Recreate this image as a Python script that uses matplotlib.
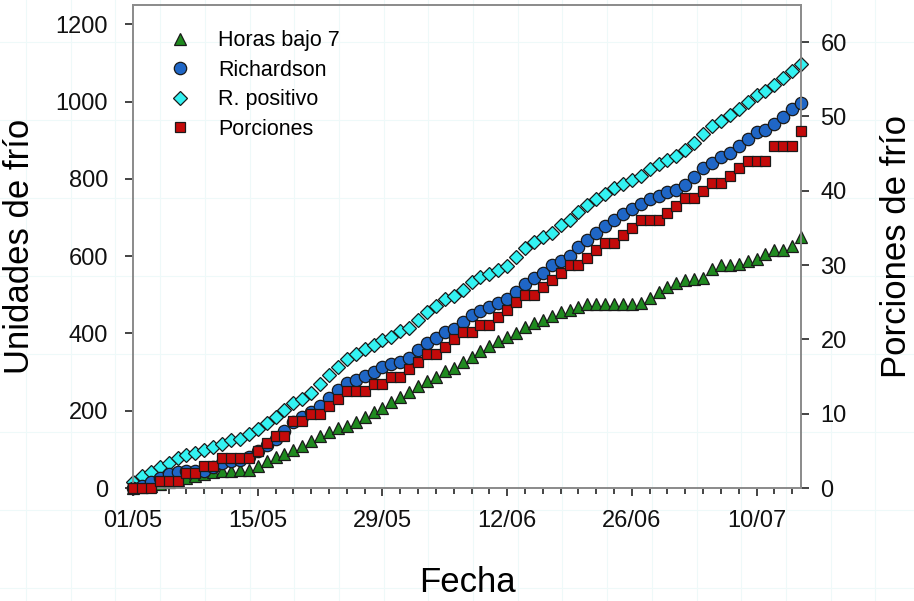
import numpy as np
import pandas as pd
import matplotlib
matplotlib.use('Agg')
import matplotlib.pyplot as plt
import matplotlib.dates as mdates
from matplotlib.lines import Line2D

plt.rcParams['font.family'] = ['Liberation Sans', 'DejaVu Sans']

# acumulados diarios desde el 1 de mayo
fechas = pd.date_range('2010-05-01', periods=76, freq='D')

horas_bajo7 = [0, 3, 6, 10, 15, 20, 26, 32, 37, 41,
               44, 45, 46, 47, 57, 70, 80, 87, 98, 108,
               122, 134, 145, 155, 160, 171, 184, 196, 206, 222,
               235, 248, 264, 278, 288, 304, 310, 326, 339, 355,
               368, 381, 390, 401, 416, 428, 436, 446, 455, 460,
               468, 477, 477, 477, 477, 477, 477, 478, 493, 507,
               519, 530, 538, 540, 544, 568, 576, 578, 581, 588,
               593, 606, 616, 616, 627, 650]

richardson = [0, 5, 15, 25, 35, 42, 45, 45, 45, 55,
              65, 70, 72, 80, 95, 111, 127, 148, 170, 183,
              196, 212, 234, 253, 273, 279, 289, 300, 313, 322,
              327, 337, 356, 375, 388, 405, 412, 429, 448, 458,
              468, 479, 488, 507, 528, 543, 557, 578, 588, 601,
              623, 642, 661, 677, 693, 709, 722, 735, 748, 756,
              765, 772, 785, 805, 828, 842, 857, 868, 885, 902,
              922, 926, 943, 960, 982, 997]

r_positivo = [15, 30, 42, 55, 65, 77, 85, 90, 98, 105,
              114, 124, 128, 139, 154, 169, 184, 201, 220, 231,
              246, 268, 292, 313, 335, 346, 359, 369, 384, 392,
              406, 415, 436, 455, 472, 490, 498, 513, 532, 545,
              554, 564, 575, 597, 621, 636, 650, 661, 681, 693,
              713, 733, 748, 762, 776, 786, 797, 808, 825, 838,
              850, 860, 874, 894, 915, 937, 951, 965, 981, 1000,
              1018, 1027, 1044, 1061, 1080, 1098]

porciones = [0, 0, 0, 1, 1, 1, 2, 2, 3, 3,
             4, 4, 4, 4, 5, 6, 7, 7, 9, 9,
             10, 10, 11, 12, 13, 13, 13, 14, 14, 15,
             15, 16, 17, 18, 18, 19, 20, 21, 21, 22,
             22, 23, 24, 25, 26, 26, 27, 28, 29, 30,
             30, 31, 32, 33, 33, 34, 35, 36, 36, 36,
             37, 38, 39, 39, 40, 41, 41, 42, 43, 44,
             44, 44, 46, 46, 46, 48]

c_verde = '#1f8a1f'
c_azul = '#1f66c6'
c_cian = '#33f2f2'
c_rojo = '#c40a0a'
borde = '#1a1a1a'
gris = '#8c8c8c'

fig = plt.figure(figsize=(9.14, 6.01), dpi=100)

# cuadricula tenue de fondo
for xf in np.arange(26, 914, 44.7) / 914:
    fig.add_artist(Line2D([xf, xf], [0, 1], color='#eef9f9', lw=0.8, zorder=-10))
for yf in np.arange(13, 601, 78) / 601:
    fig.add_artist(Line2D([0, 1], [yf, yf], color='#eef9f9', lw=0.8, zorder=-10))

ax = fig.add_axes([0.1455, 0.188, 0.731, 0.8037])
ax.patch.set_alpha(0)

ax.plot(fechas, horas_bajo7, '^', ms=9.3, mfc=c_verde, mec=borde, mew=0.9,
        clip_on=False, label='Horas bajo 7', zorder=3)
ax.plot(fechas, r_positivo, 'D', ms=7.4, mfc=c_cian, mec=borde, mew=0.9,
        clip_on=False, label='R. positivo', zorder=4)
ax.plot(fechas, richardson, 'o', ms=8.9, mfc=c_azul, mec=borde, mew=0.9,
        clip_on=False, label='Richardson', zorder=5)

ax.set_ylim(0, 1250)
ax.set_yticks(np.arange(0, 1201, 200))
ax.set_xlim(fechas[0], fechas[-1])
ax.set_xticks(fechas[::14])
ax.set_xticks(fechas[::2], minor=True)
ax.xaxis.set_major_formatter(mdates.DateFormatter('%d/%m'))

ax2 = ax.twinx()
ax2.plot(fechas, porciones, 's', ms=7.8, mfc=c_rojo, mec=borde, mew=0.9,
         clip_on=False, label='Porciones', zorder=6)
ax2.set_ylim(0, 65)
ax2.set_yticks(np.arange(0, 61, 10))

for a in (ax, ax2):
    for s in a.spines.values():
        s.set_color(gris)
        s.set_linewidth(1.3)
ax.tick_params(axis='both', which='major', labelsize=17, colors='#111111',
               length=6, width=1.1)
ax.tick_params(axis='x', which='major', pad=10)
ax.tick_params(axis='y', which='major', pad=12)
ax.tick_params(axis='x', which='minor', length=4, width=1.1, colors='#111111')
ax2.tick_params(axis='y', labelsize=17, colors='#111111', length=6, width=1.1, pad=8)

ax.set_xlabel('Fecha', fontsize=25, labelpad=24)
ax.set_ylabel('Unidades de frío', fontsize=25, labelpad=14)
ax2.set_ylabel('Porciones de frío', fontsize=25, labelpad=24)

h1, l1 = ax.get_legend_handles_labels()
h2, l2 = ax2.get_legend_handles_labels()
orden = {'Horas bajo 7': 0, 'Richardson': 1, 'R. positivo': 2, 'Porciones': 3}
pares = sorted(zip(h1 + h2, l1 + l2), key=lambda p: orden[p[1]])
ax2.legend([p[0] for p in pares], [p[1] for p in pares], loc='upper left',
           bbox_to_anchor=(0.055, 0.948), frameon=False, fontsize=15.5,
           handlelength=1.0, handletextpad=1.25, labelspacing=0.4,
           borderpad=0, borderaxespad=0, numpoints=1)

fig.savefig('out.png', dpi=100)
